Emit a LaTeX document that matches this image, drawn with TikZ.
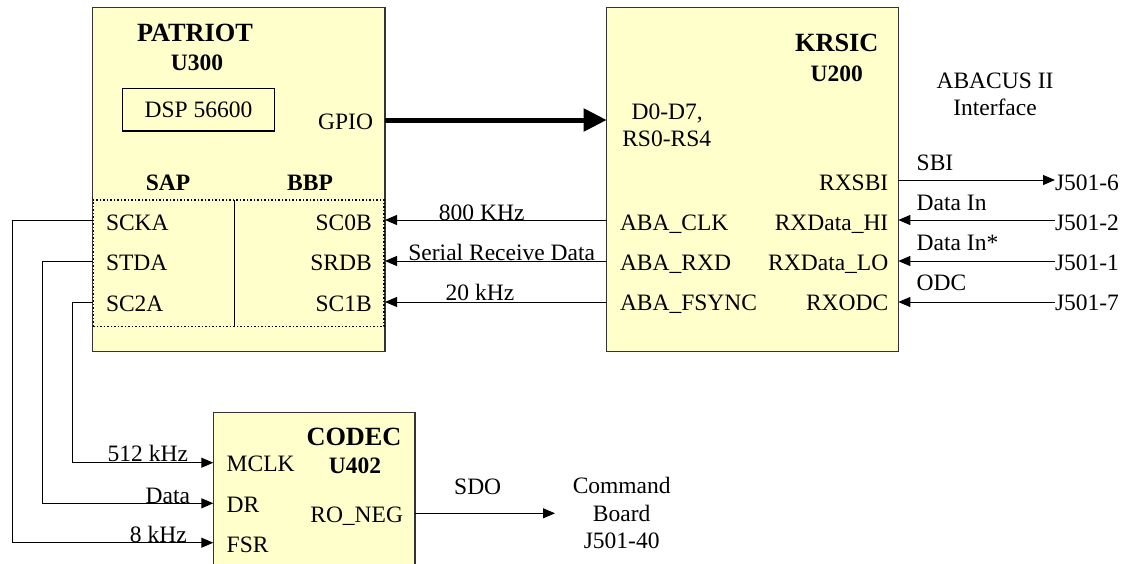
\documentclass[tikz,border=0pt]{standalone}
\usepackage{fontspec}
\setmainfont{Liberation Serif}
\usetikzlibrary{arrows.meta}
\definecolor{chipfill}{HTML}{FFFFCC}
\definecolor{chipline}{HTML}{333333}
\begin{document}
\begin{tikzpicture}[x=1pt,y=-1pt,
  every node/.style={font=\fontsize{23.5}{27}\selectfont, inner sep=0pt, outer sep=0pt},
  chip/.style={draw=chipline, fill=chipfill, line width=1.5pt, rectangle},
  ttl/.style={font=\fontsize{26.3}{30}\selectfont\bfseries},
  ttlb/.style={font=\fontsize{23.5}{27}\selectfont\bfseries},
  wire/.style={line width=1pt, draw=black},
  arr/.style={wire, -{Triangle[length=12pt,width=10pt]}},
  big/.style={line width=5pt, -{Triangle[length=23pt,width=22pt]}}]
\useasboundingbox (0,0) rectangle (1138,563);

% chips
\node[chip, minimum width=292.3pt, minimum height=344.4pt] (patriot) at (238.85,179.5) {};
\node[chip, minimum width=291.6pt, minimum height=344.4pt] (krsic) at (752.5,179.5) {};
\node[chip, minimum width=201.7pt, minimum height=167.7pt] (codec) at (314.15,496.15) {};

% PATRIOT contents
\node[ttl, anchor=base] (pt) at (195,41.7) {PATRIOT};
\node[ttlb, anchor=base] (pu) at (197,70) {U300};
\node[draw=black, line width=1.3pt, minimum width=151.6pt, minimum height=42.7pt] (dsp) at (198.5,109.65) {DSP 56600};
\node[anchor=base east] (gpio) at (373,129) {GPIO};
\node[ttlb, anchor=base] (sap) at (168,190) {SAP};
\node[ttlb, anchor=base] (bbp) at (310,190) {BBP};
\node[draw=black, dotted, line width=1.5pt, minimum width=290.7pt, minimum height=126.7pt] (ports) at (238.65,263.35) {};
\coordinate (div) at (234.3,0);
\draw[line width=1.5pt] (ports.north -| div) -- (ports.south -| div);
\node[anchor=base west] (scka) at (106,230) {SCKA};
\node[anchor=base west] (stda) at (106,270.7) {STDA};
\node[anchor=base west] (sc2a) at (106,311.7) {SC2A};
\node[anchor=base east] (sc0b) at (371.7,230) {SC0B};
\node[anchor=base east] (srdb) at (371.7,270.7) {SRDB};
\node[anchor=base east] (sc1b) at (371.7,311.7) {SC1B};

% KRSIC contents
\node[ttl, anchor=base] (kt) at (836.7,51.7) {KRSIC};
\node[ttlb, anchor=base] (ku) at (836.7,81.7) {U200};
\node[anchor=base west] (dd) at (631.7,119.3) {D0-D7,};
\node[anchor=base west] (rs) at (622.3,146.7) {RS0-RS4};
\node[anchor=base west] (abaclk) at (620,230) {ABA\_CLK};
\node[anchor=base west] (abarxd) at (620,270.7) {ABA\_RXD};
\node[anchor=base west] (abafs) at (620,310) {ABA\_FSYNC};
\node[anchor=base east] (rxsbi) at (888.3,190) {RXSBI};
\node[anchor=base east] (rxhi) at (888.3,230) {RXData\_HI};
\node[anchor=base east] (rxlo) at (888.3,270) {RXData\_LO};
\node[anchor=base east] (rxodc) at (888.3,310) {RXODC};
\node[anchor=base] (abacus) at (995,88.3) {ABACUS II};
\node[anchor=base] (iface) at (995,115) {Interface};

% connectors on right
\node[anchor=base west] (j6) at (1055,190) {J501-6};
\node[anchor=base west] (j2) at (1055,230) {J501-2};
\node[anchor=base west] (j1) at (1055,270) {J501-1};
\node[anchor=base west] (j7) at (1055,310) {J501-7};
\coordinate (s0) at (0,180);
\coordinate (r1) at (0,220);
\coordinate (r2) at (0,261);
\coordinate (r3) at (0,302);
\draw[arr] (krsic.east |- s0) -- (j6.west |- s0);
\draw[arr] (j2.west |- r1) -- (krsic.east |- r1);
\draw[arr] (j1.west |- r2) -- (krsic.east |- r2);
\draw[arr] (j7.west |- r3) -- (krsic.east |- r3);
\node[anchor=base west] (lsbi) at (916.7,170.7) {SBI};
\node[anchor=base west] (ldin) at (916.7,210) {Data In};
\node[anchor=base west] (ldins) at (916.7,250) {Data In*};
\node[anchor=base west] (lodc) at (916.7,290) {ODC};

% GPIO bus
\coordinate (g) at (0,120);
\draw[big] (patriot.east |- g) -- (krsic.west |- g);

% KRSIC -> PATRIOT
\draw[arr] (krsic.west |- r1) -- (patriot.east |- r1);
\draw[arr] (krsic.west |- r2) -- (patriot.east |- r2);
\draw[arr] (krsic.west |- r3) -- (patriot.east |- r3);
\node[anchor=base] (l800) at (481.7,220) {800 KHz};
\node[anchor=base] (lsrd) at (501.7,260) {Serial Receive Data};
\node[anchor=base] (l20) at (480,300) {20 kHz};

% CODEC contents
\node[ttl, anchor=base] (ct) at (354,445) {CODEC};
\node[ttlb, anchor=base] (cu) at (355,473.3) {U402};
\node[anchor=base west] (mclk) at (226.7,471.7) {MCLK};
\node[anchor=base west] (dr) at (226.7,512.7) {DR};
\node[anchor=base west] (fsr) at (226.7,552.7) {FSR};
\node[anchor=base] (roneg) at (356.7,522.7) {RO\_NEG};

% PATRIOT SAP -> CODEC
\coordinate (xA) at (12.3,0);
\coordinate (xB) at (42.3,0);
\coordinate (xC) at (72.3,0);
\coordinate (c1) at (0,462.7);
\coordinate (c2) at (0,503.3);
\coordinate (c3) at (0,542.7);
\draw[arr] (patriot.west |- r1) -| (xA |- c3) -- (codec.west |- c3);
\draw[arr] (patriot.west |- r2) -| (xB |- c2) -- (codec.west |- c2);
\draw[arr] (patriot.west |- r3) -| (xC |- c1) -- (codec.west |- c1);
\node[anchor=base east] (l512) at (188,461.7) {512 kHz};
\node[anchor=base east] (ldata) at (190,503) {Data};
\node[anchor=base east] (l8) at (186.7,542) {8 kHz};

% CODEC -> Command Board
\coordinate (cb) at (555,513.3);
\draw[arr] (codec.east |- cb) -- (cb);
\node[anchor=base] (lsdo) at (477.7,494.3) {SDO};
\node[anchor=base] (cmd1) at (621.7,493.3) {Command};
\node[anchor=base] (cmd2) at (621.7,521) {Board};
\node[anchor=base] (cmd3) at (621.7,548.3) {J501-40};
\end{tikzpicture}
\end{document}
